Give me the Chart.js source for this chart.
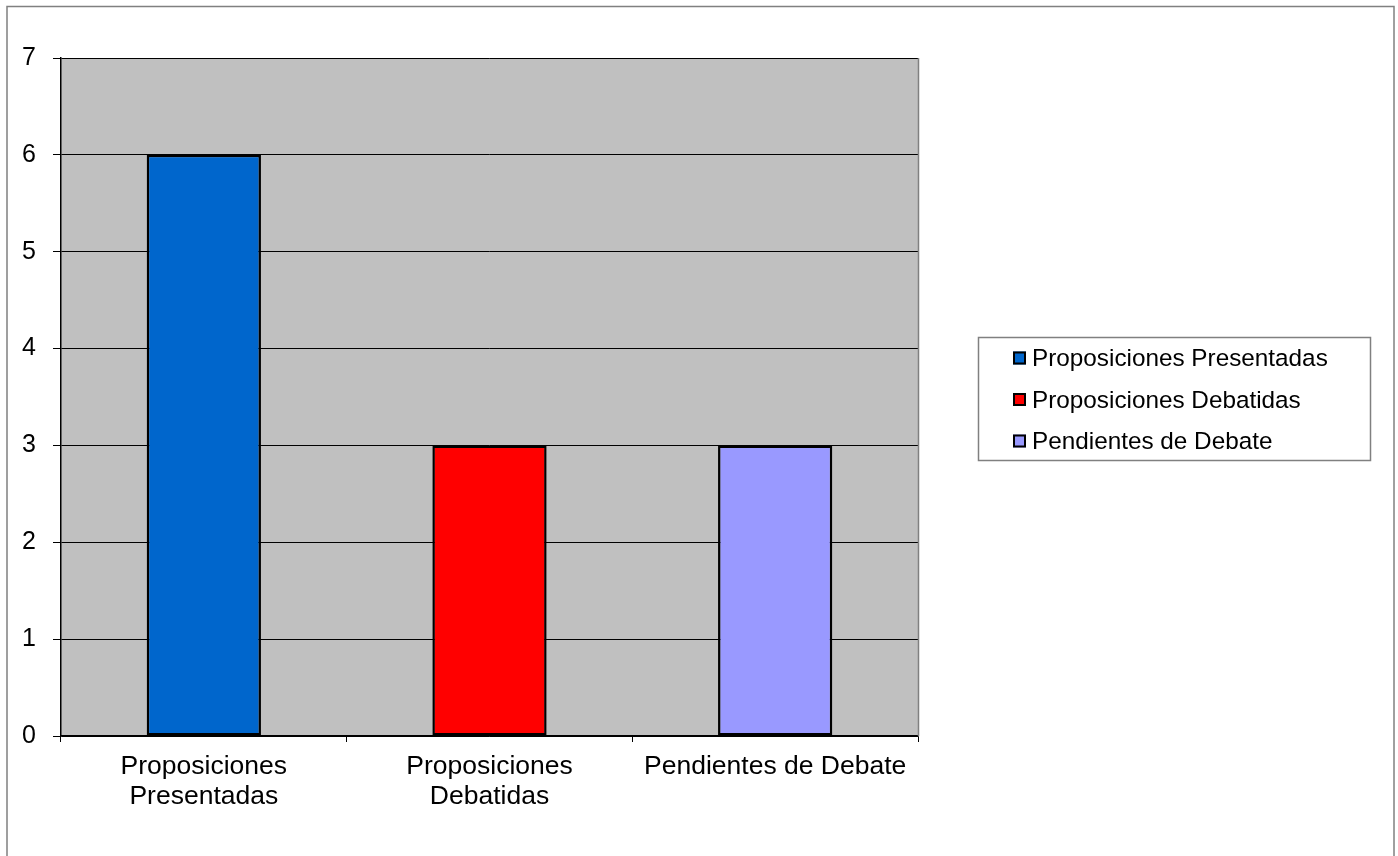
<!DOCTYPE html>
<html>
<head>
<meta charset="utf-8">
<script src="https://cdn.jsdelivr.net/npm/chart.js@4/dist/chart.umd.min.js"></script>
<style>
  html, body { margin: 0; padding: 0; background: #ffffff; }
  #wrap { width: 1398px; height: 856px; position: relative; }
  canvas { display: block; }
</style>
</head>
<body>
<div id="wrap"><canvas id="c" width="1398" height="856"></canvas></div>
<script>
// ---- data ----
const categories = [["Proposiciones", "Presentadas"], ["Proposiciones", "Debatidas"], "Pendientes de Debate"];
const legendLabels = ["Proposiciones Presentadas", "Proposiciones Debatidas", "Pendientes de Debate"];
const values = [6, 3, 3];
const barColors = ["#0066CC", "#FF0000", "#9999FF"];
const yTicks = [0, 1, 2, 3, 4, 5, 6, 7];

const FONT = "'Liberation Sans', Arial, sans-serif";

const decorPlugin = {
  id: 'decor',
  beforeDraw(chart) {
    const ctx = chart.ctx, a = chart.chartArea;
    ctx.save();
    ctx.fillStyle = '#ffffff';
    ctx.fillRect(0, 0, chart.width, chart.height);
    // outer border
    ctx.strokeStyle = '#808080';
    ctx.lineWidth = 1.5;
    ctx.strokeRect(7, 6.5, 1387, 860);
    // plot background
    ctx.fillStyle = '#C0C0C0';
    ctx.fillRect(a.left, a.top, a.right - a.left, a.bottom - a.top);
    ctx.restore();
  },
  afterDatasetsDraw(chart) {
    const ctx = chart.ctx, a = chart.chartArea;
    ctx.save();
    ctx.strokeStyle = '#808080';
    ctx.lineWidth = 1.5;
    ctx.beginPath();
    ctx.moveTo(a.right + 0.5, a.top);
    ctx.lineTo(a.right + 0.5, a.bottom);
    ctx.stroke();
    ctx.restore();
  },
  afterDraw(chart) {
    const ctx = chart.ctx;
    ctx.save();
    ctx.strokeStyle = '#808080';
    ctx.lineWidth = 1.5;
    ctx.strokeRect(978.5, 337.5, 392, 123);
    ctx.font = '24.3px ' + FONT;
    ctx.textBaseline = 'middle';
    ctx.textAlign = 'left';
    const ys = [358, 399.5, 441];
    legendLabels.forEach((lab, i) => {
      const y = ys[i];
      ctx.fillStyle = barColors[i];
      ctx.fillRect(1013, y - 6.5, 13, 13);
      ctx.strokeStyle = '#000000';
      ctx.lineWidth = 2;
      ctx.strokeRect(1014, y - 5.5, 11, 11);
      ctx.fillStyle = '#000000';
      ctx.fillText(lab, 1032, y + 1.5);
    });
    ctx.restore();
  }
};

new Chart(document.getElementById('c'), {
  type: 'bar',
  data: {
    labels: categories,
    datasets: [{
      data: values,
      backgroundColor: barColors,
      borderColor: '#000000',
      borderWidth: 2.5,
      borderSkipped: false,
      categoryPercentage: 1.0,
      barPercentage: 0.4
    }]
  },
  options: {
    responsive: false,
    devicePixelRatio: 1,
    animation: false,
    layout: { padding: { top: 58, right: 480, left: 0, bottom: 0 } },
    plugins: {
      legend: { display: false },
      tooltip: { enabled: false }
    },
    scales: {
      x: {
        offset: true,
        grid: {
          offset: true,
          drawOnChartArea: false,
          drawTicks: true,
          tickLength: 6,
          color: '#000000',
          lineWidth: 1
        },
        border: { display: true, color: '#000000', width: 1.5 },
        ticks: {
          color: '#000000',
          font: { family: FONT, size: 26.5, lineHeight: 1.132 },
          padding: 10,
          maxRotation: 0,
          autoSkip: false
        },
        afterFit(scale) { scale.height = 120; }
      },
      y: {
        min: 0,
        max: 7,
        afterBuildTicks(scale) { scale.ticks = yTicks.map(v => ({ value: v })); },
        grid: {
          color: '#000000',
          lineWidth: 1,
          tickLength: 8,
          drawTicks: true
        },
        border: { display: true, color: '#000000', width: 1.5 },
        ticks: {
          color: '#000000',
          font: { family: FONT, size: 25 },
          padding: 17
        },
        afterFit(scale) { scale.width = 61; }
      }
    }
  },
  plugins: [decorPlugin]
});
</script>
</body>
</html>
